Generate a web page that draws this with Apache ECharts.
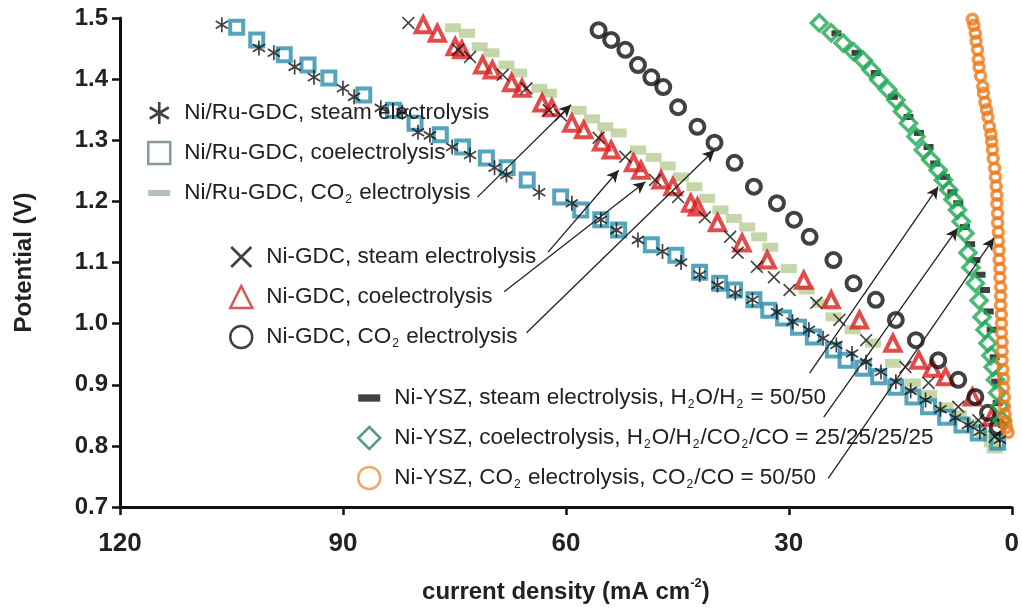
<!DOCTYPE html>
<html><head><meta charset="utf-8">
<script src="https://cdn.jsdelivr.net/npm/echarts@6/dist/echarts.min.js"></script>
<style>html,body{margin:0;padding:0;background:#fff}#c{width:1022px;height:610px}</style>
</head><body><div id="c"></div>
<script>
// ---- data: [current density (mA cm-2), potential (V)] ----
const xTicks = [0, 30, 60, 90, 120];
const yTicks = [0.7, 0.8, 0.9, 1.0, 1.1, 1.2, 1.3, 1.4, 1.5];

const niRuSteam = [[106.3,1.489],[101.3,1.451],[99.3,1.443],[96.5,1.420],[93.9,1.403],[90.0,1.385],[88.5,1.371],[84.9,1.353],[82.0,1.346],[79.9,1.313],[78.3,1.308],[75.3,1.289],[72.9,1.276],[69.6,1.255],[68.0,1.243],[63.6,1.215],[59.2,1.197],[55.3,1.170],[53.2,1.153],[50.3,1.137],[47.0,1.118],[44.5,1.100],[42.0,1.080],[39.6,1.063],[37.2,1.050],[34.9,1.039],[31.6,1.019],[29.5,1.003],[27.3,0.990],[25.4,0.976],[23.6,0.965],[21.5,0.951],[19.6,0.937],[17.6,0.921],[15.6,0.905],[13.6,0.890],[11.6,0.875],[9.6,0.860],[7.6,0.846],[5.9,0.834],[4.3,0.823],[1.6,0.810]];
const niRuCo = [[104.3,1.485],[101.6,1.464],[97.9,1.440],[94.7,1.423],[91.9,1.402],[87.2,1.374],[83.2,1.349],[80.3,1.328],[76.9,1.309],[73.9,1.289],[70.7,1.271],[67.9,1.255],[65.2,1.235],[60.7,1.207],[58.0,1.186],[55.3,1.170],[52.9,1.153],[48.5,1.129],[45.2,1.112],[42.0,1.084],[39.3,1.066],[37.3,1.055],[34.7,1.039],[32.7,1.022],[30.7,1.009],[28.7,0.994],[26.7,0.978],[24.0,0.957],[22.3,0.940],[20.0,0.927],[17.9,0.913],[15.6,0.896],[13.3,0.880],[11.2,0.864],[8.9,0.847],[6.7,0.834],[4.5,0.821],[1.9,0.806]];
const niRuCO2 = [[75.2,1.484],[73.3,1.475],[71.6,1.453],[70.0,1.443],[68.0,1.423],[66.3,1.410],[63.6,1.385],[62.3,1.377],[58.3,1.349],[56.5,1.335],[54.7,1.322],[52.9,1.312],[50.3,1.284],[48.2,1.272],[46.3,1.258],[44.5,1.240],[42.7,1.224],[41.0,1.205],[39.2,1.186],[37.4,1.172],[35.6,1.158],[34.0,1.142],[32.5,1.125],[30.0,1.090],[27.6,1.055],[25.8,1.033],[24.0,1.011],[21.4,0.990],[18.7,0.968],[16.0,0.935],[13.3,0.903],[11.1,0.884],[8.9,0.864],[7.1,0.851],[5.3,0.837],[3.8,0.820],[2.7,0.805],[2.3,0.795]];
const niGdcSteam = [[81.2,1.492],[74.5,1.448],[72.9,1.436],[68.5,1.407],[65.3,1.385],[62.3,1.349],[60.7,1.341],[55.6,1.304],[52.0,1.273],[48.0,1.235],[44.9,1.207],[41.3,1.174],[37.9,1.142],[36.9,1.116],[34.3,1.093],[32.0,1.076],[29.9,1.055],[26.3,1.034],[23.2,1.006],[19.6,0.973],[14.3,0.929],[11.2,0.903],[7.2,0.864],[4.5,0.842],[2.3,0.815]];
const niGdcCo = [[79.2,1.489],[77.3,1.475],[74.9,1.453],[74.0,1.448],[71.2,1.423],[69.9,1.415],[67.3,1.394],[65.9,1.385],[63.2,1.361],[61.9,1.353],[59.2,1.328],[57.6,1.317],[55.2,1.297],[53.9,1.284],[50.9,1.263],[49.9,1.251],[47.2,1.235],[45.6,1.224],[43.2,1.197],[42.3,1.191],[39.6,1.165],[36.3,1.132],[32.9,1.104],[28.0,1.071],[24.3,1.039],[20.5,1.006],[16.0,0.968],[12.5,0.940],[10.7,0.927],[8.9,0.913],[5.3,0.880],[2.7,0.847]];
const niGdcCO2 = [[55.6,1.480],[53.9,1.464],[52.0,1.448],[50.3,1.423],[48.5,1.403],[46.9,1.387],[44.9,1.354],[42.3,1.322],[40.0,1.296],[37.3,1.263],[34.7,1.224],[31.6,1.197],[29.3,1.170],[27.2,1.142],[24.0,1.104],[21.3,1.066],[18.3,1.039],[15.6,1.006],[12.9,0.973],[9.9,0.940],[7.2,0.908],[4.9,0.880],[3.2,0.854],[1.9,0.831]];
const niYszSteam = [[23.6,1.475],[20.9,1.443],[18.3,1.410],[16.0,1.371],[13.9,1.338],[12.5,1.312],[11.2,1.289],[10.3,1.262],[9.0,1.240],[8.0,1.215],[7.2,1.197],[6.3,1.158],[5.6,1.130],[4.9,1.104],[4.2,1.080],[3.6,1.055],[3.1,1.020],[2.7,0.990],[2.3,0.945],[2.1,0.905],[1.9,0.870],[1.2,0.834]];
const niYszCo = [[25.9,1.492],[24.3,1.476],[22.7,1.459],[21.3,1.445],[20.0,1.431],[18.9,1.415],[17.9,1.399],[16.7,1.383],[15.6,1.366],[14.7,1.347],[13.9,1.328],[12.9,1.306],[11.9,1.284],[10.9,1.268],[9.9,1.251],[9.2,1.235],[8.5,1.219],[7.9,1.203],[7.3,1.186],[6.8,1.167],[6.3,1.148],[5.9,1.116],[5.5,1.092],[4.9,1.066],[4.4,1.038],[4.0,1.011],[3.6,0.990],[3.2,0.968],[2.8,0.948],[2.5,0.929],[2.2,0.908],[1.9,0.887],[1.6,0.865],[1.3,0.842]];
const niYszCO2 = [[5.3,1.498],[5.1,1.488],[4.9,1.475],[4.8,1.462],[4.6,1.448],[4.5,1.432],[4.4,1.420],[4.2,1.405],[3.9,1.388],[3.8,1.377],[3.6,1.362],[3.4,1.350],[3.2,1.338],[3.0,1.322],[2.8,1.310],[2.7,1.298],[2.6,1.285],[2.5,1.270],[2.3,1.254],[2.2,1.240],[2.1,1.225],[2.0,1.210],[2.0,1.196],[1.9,1.180],[1.9,1.165],[1.8,1.150],[1.8,1.135],[1.7,1.120],[1.7,1.105],[1.6,1.090],[1.6,1.075],[1.5,1.060],[1.5,1.045],[1.5,1.030],[1.4,1.015],[1.4,1.000],[1.4,0.985],[1.3,0.970],[1.3,0.955],[1.3,0.940],[1.2,0.925],[1.1,0.910],[1.1,0.895],[1.0,0.880],[1.0,0.865],[0.9,0.852],[0.8,0.840],[0.7,0.830],[0.5,0.822]];

// annotation arrows: [from, to] in data coordinates
const arrows = [
  [[71.9,1.207],[59.3,1.358]],
  [[62.4,1.117],[52.9,1.251]],
  [[68.3,1.052],[49.3,1.232]],
  [[65.3,0.985],[40.0,1.284]],
  [[27.2,0.919],[9.9,1.224]],
  [[25.3,0.847],[7.3,1.156]],
  [[24.7,0.747],[2.4,1.140]]
];

const names = [
  'Ni/Ru-GDC, steam electrolysis',
  'Ni/Ru-GDC, coelectrolysis',
  'Ni/Ru-GDC, CO2 electrolysis',
  'Ni-GDC, steam electrolysis',
  'Ni-GDC, coelectrolysis',
  'Ni-GDC, CO2 electrolysis',
  'Ni-YSZ, steam electrolysis, H2O/H2 = 50/50',
  'Ni-YSZ, coelectrolysis, H2O/H2/CO2/CO = 25/25/25/25',
  'Ni-YSZ, CO2 electrolysis, CO2/CO = 50/50'
];

const asteriskPath = 'path://M-1.2,-10L1.2,-10L1.2,10L-1.2,10Z M8.06,6.04L-9.26,-3.96L-8.06,-6.04L9.26,3.96Z M-9.26,3.96L8.06,-6.04L9.26,-3.96L-8.06,6.04Z';
const crossPath = 'path://M-8,-6.6L-6.6,-8L8,6.6L6.6,8Z M6.6,-8L8,-6.6L-6.6,8L-8,6.6Z';
const dashPath = 'path://M0,0L22,0L22,6L0,6Z';

const FONT = 'Liberation Sans, Arial, sans-serif';
const hollow = (c, w) => ({color: 'rgba(255,255,255,0)', borderColor: c, borderWidth: w});

const chart = echarts.init(document.getElementById('c'), null, {renderer: 'canvas'});

function fmt(name) { return name.replace(/([A-Z])2/g, '$1{s|2}'); }
const legendText = {
  color: '#222', fontFamily: FONT, fontSize: 22.5, lineHeight: 26, padding: [0, 0, 0, 9],
  rich: { s: {fontSize: 12, fontFamily: FONT, color: '#222', lineHeight: 26, verticalAlign: 'bottom', padding: [0, 1, 0, 1]} }
};
function mkLegend(left, top, items) {
  return {
    left: left, top: top, orient: 'vertical', itemGap: 14, itemWidth: 22, itemHeight: 22,
    selectedMode: false, formatter: fmt, textStyle: legendText, data: items
  };
}

chart.setOption({
  animation: false,
  backgroundColor: '#fff',
  grid: {left: 120, right: 5, top: 18, bottom: 103, containLabel: false},
  xAxis: {
    type: 'value', min: 0, max: 120, interval: 30, inverse: true,
    name: 'current density (mA cm{sup|-2})', nameLocation: 'middle', nameGap: 70,
    nameTextStyle: {fontFamily: FONT, fontSize: 24, fontWeight: 'bold', color: '#222',
      rich: {sup: {fontFamily: FONT, fontSize: 13, fontWeight: 'bold', color: '#222', verticalAlign: 'top', lineHeight: 30}}},
    axisLine: {show: true, onZero: false, lineStyle: {color: '#111', width: 3}},
    axisTick: {show: true, inside: false, length: 8, lineStyle: {color: '#111', width: 2.5}},
    axisLabel: {margin: 24, fontFamily: FONT, fontSize: 26, fontWeight: 'bold', color: '#222',
      formatter: v => xTicks.includes(v) ? String(v) : ''},
    splitLine: {show: false}
  },
  yAxis: {
    type: 'value', min: 0.7, max: 1.5, interval: 0.1,
    name: 'Potential (V)', nameLocation: 'middle', nameGap: 84,
    nameTextStyle: {fontFamily: FONT, fontSize: 24, fontWeight: 'bold', color: '#222'},
    axisLine: {show: true, onZero: false, lineStyle: {color: '#111', width: 3}},
    axisTick: {show: true, inside: false, length: 8, lineStyle: {color: '#111', width: 2.5}},
    axisLabel: {margin: 12, fontFamily: FONT, fontSize: 24, fontWeight: 'bold', color: '#222',
      formatter: v => { const t = yTicks.find(k => Math.abs(k - v) < 1e-6); return t === undefined ? '' : t.toFixed(1); }},
    splitLine: {show: false}
  },
  legend: [
    mkLegend(142, 95, [
      {name: names[0], icon: asteriskPath, itemStyle: {color: '#111', borderWidth: 0}},
      {name: names[1], icon: 'rect', itemStyle: hollow('#6a7f8c', 2.5)},
      {name: names[2], icon: dashPath, itemStyle: {color: '#9fb3a6', borderWidth: 0}}
    ]),
    mkLegend(224, 239, [
      {name: names[3], icon: crossPath, itemStyle: {color: '#111', borderWidth: 0}},
      {name: names[4], icon: 'triangle', itemStyle: hollow('#d32a2a', 2.5)},
      {name: names[5], icon: 'circle', itemStyle: hollow('#111', 2.5)}
    ]),
    mkLegend(352, 380, [
      {name: names[6], icon: 'path://M0,0L18,0L18,6L0,6Z', itemStyle: {color: '#111', borderWidth: 0}},
      {name: names[7], icon: 'diamond', itemStyle: hollow('#2c7f6b', 2.5)},
      {name: names[8], icon: 'circle', itemStyle: hollow('#f0923a', 2.5)}
    ])
  ],
  series: [
    {name: names[2], type: 'scatter', data: niRuCO2, symbol: 'rect', symbolSize: [16, 9], itemStyle: {color: '#b7cd92'}, z: 2},
    {name: names[1], type: 'scatter', data: niRuCo, symbol: 'rect', symbolSize: 13, itemStyle: hollow('#2b8dab', 4), z: 3},
    {name: names[0], type: 'scatter', data: niRuSteam, symbol: asteriskPath, symbolSize: [13, 15], itemStyle: {color: '#111'}, z: 4},
    {name: names[4], type: 'scatter', data: niGdcCo, symbol: 'triangle', symbolSize: 15, itemStyle: hollow('#d81e1e', 4), z: 3},
    {name: names[3], type: 'scatter', data: niGdcSteam, symbol: crossPath, symbolSize: 13, itemStyle: {color: '#111'}, z: 4},
    {name: names[5], type: 'scatter', data: niGdcCO2, symbol: 'circle', symbolSize: 14, itemStyle: hollow('#111', 4), z: 3},
    {name: names[6], type: 'scatter', data: niYszSteam, symbol: 'rect', symbolSize: [10, 6], itemStyle: {color: '#111'}, z: 2},
    {name: names[7], type: 'scatter', data: niYszCo, symbol: 'diamond', symbolSize: 16, itemStyle: hollow('#1fa855', 3.5), z: 3},
    {name: names[8], type: 'scatter', data: niYszCO2, symbol: 'circle', symbolSize: 10, itemStyle: hollow('#ee7a1c', 3.5), z: 3},
    {
      name: 'arrows', type: 'scatter', data: [], silent: true, z: 5,
      markLine: {
        silent: true, symbol: ['none', 'arrow'], symbolSize: [9, 12], animation: false,
        label: {show: false}, emphasis: {disabled: true},
        lineStyle: {color: '#222', width: 1.3, type: 'solid'},
        data: arrows.map(a => [{coord: a[0]}, {coord: a[1]}])
      }
    }
  ]
});
</script></body></html>
